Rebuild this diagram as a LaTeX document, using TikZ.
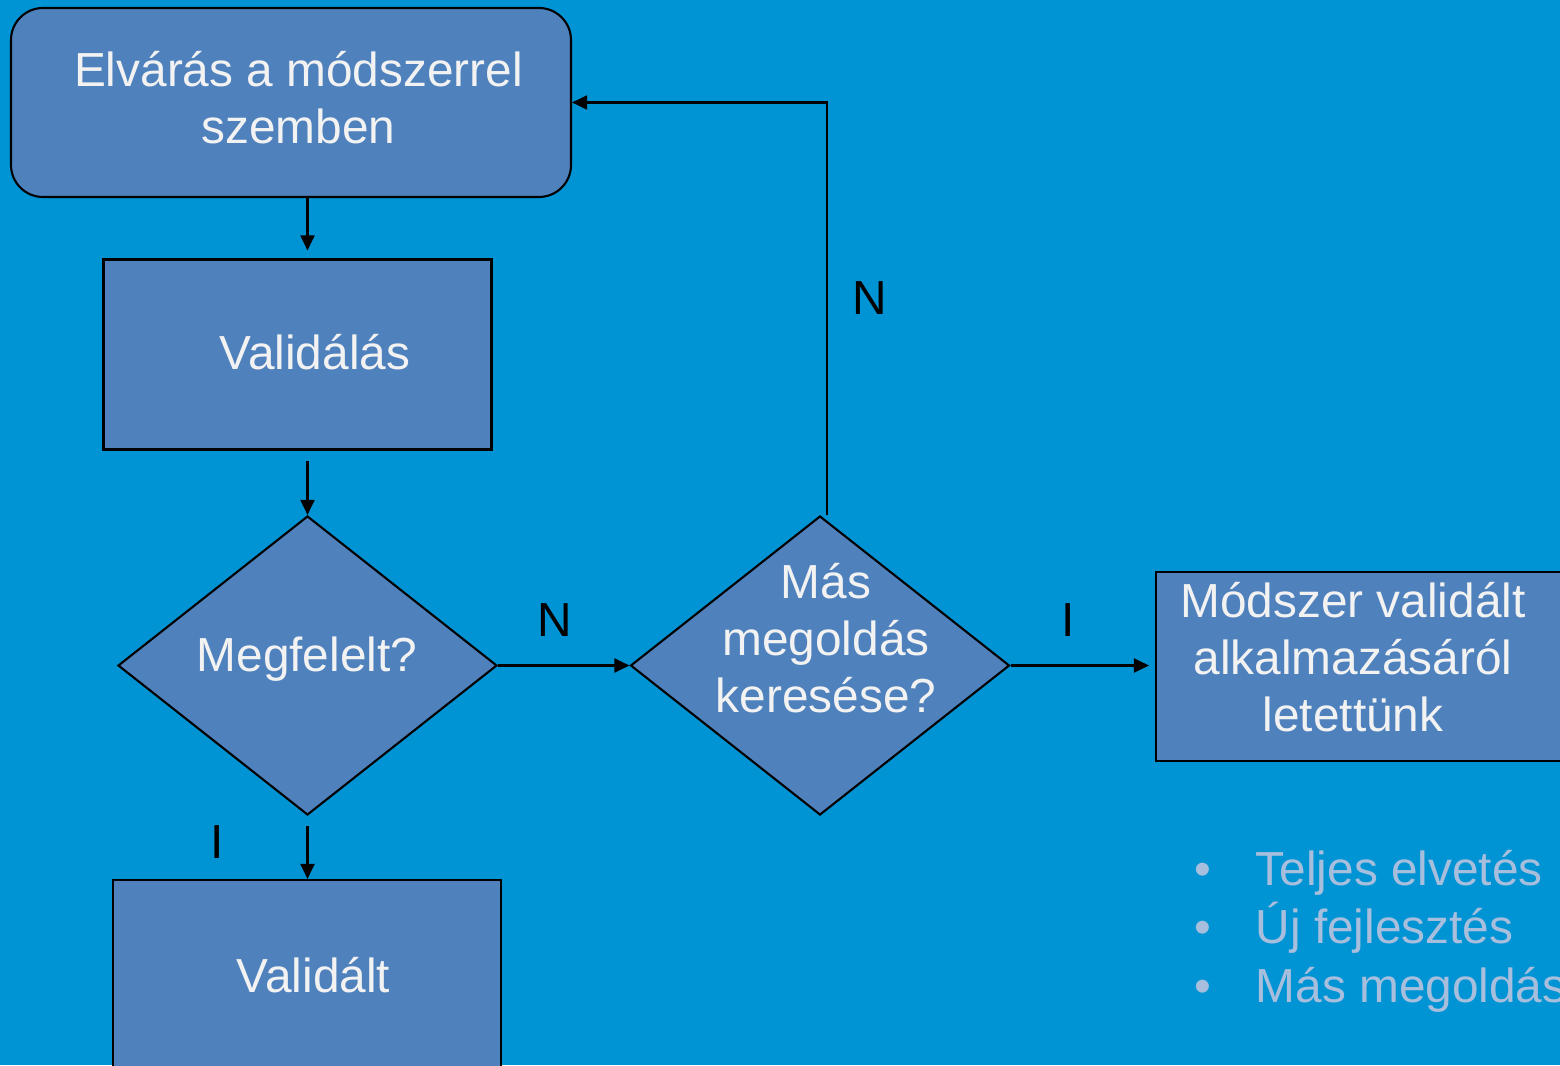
\documentclass[tikz,border=0pt]{standalone}
\usepackage{fontspec}
\setmainfont{Liberation Sans}
\usepackage{tikz}
\usetikzlibrary{arrows.meta}
\usetikzlibrary{shapes.geometric}

\definecolor{hatter}{RGB}{0,148,212}
\definecolor{doboz}{RGB}{79,129,189}
\definecolor{betu}{RGB}{242,242,242}
\definecolor{halvany}{RGB}{168,190,221}

\begin{document}
\begin{tikzpicture}[
    box/.style={draw=black,line width=0.6pt,fill=doboz,inner sep=0pt},
    dnt/.style={box,diamond,minimum width=3.79cm,minimum height=2.99cm},
    txt/.style={text=betu,align=center,font=\fontsize{13.6}{16.2}\selectfont},
    lbl/.style={text=black,font=\fontsize{13.6}{16.2}\selectfont}]
    \useasboundingbox (0,0) rectangle (15.6,10.65);
    \clip (0,0) rectangle (15.6,10.65);
    \fill[hatter] (0,0) rectangle (15.6,10.65);
    % dobozok
    \node[box,rounded corners=0.32cm,minimum width=5.6cm,minimum height=1.89cm] (elvaras) at (2.91,9.625) {};
    \node[txt] (elvarastxt) at (2.985,9.67) {Elvárás a módszerrel\\szemben};
    \node[box,minimum width=3.88cm,minimum height=1.9cm] (validalas) at (2.975,7.105) {};
    \node[txt] (validalastxt) at (3.15,7.125) {Validálás};
    \node[dnt] (megf) at (3.075,3.995) {};
    \node[txt] (megftxt) at (3.07,4.06) {Megfelelt?};
    \node[dnt] (masm) at (8.20,3.995) {};
    \node[txt] (masmtxt) at (8.26,4.27) {Más\\megoldás\\keresése?};
    \node[box,minimum width=5cm,minimum height=1.89cm] (modszer) at (14.06,3.985) {};
    \node[txt] (modszertxt) at (13.53,4.075) {Módszer validált\\alkalmazásáról\\letettünk};
    \node[box,minimum width=3.88cm,minimum height=1.9cm] (validalt) at (3.07,0.90) {};
    \node[txt] (validalttxt) at (3.135,0.90) {Validált};
    % feliratok
    \node[lbl] (n1) at (5.55,4.445) {N};
    \node[lbl] (n2) at (8.70,7.67) {N};
    \node[lbl] (i1) at (10.68,4.45) {I};
    \node[lbl] (i2) at (2.17,2.225) {I};
    % lista
    \foreach \t [count=\i] in {Teljes elvetés,Új fejlesztés,Más megoldás} {
      \node[lbl,text=halvany,anchor=base] (pt\i) at (12.03,{1.80-0.585*(\i-1)}) {•};
      \node[lbl,text=halvany,anchor=base west,inner sep=0pt] (lt\i) at (12.55,{1.80-0.585*(\i-1)}) {\t};
    }
    \begin{scope}[every edge/.style={draw=black,line width=0.6pt,-{Triangle[length=4.3pt,width=4pt]}}]
      \path (megf.north |- elvaras.south) edge[shorten >=0.08cm] (megf.north |- validalas.north);
      \path (megf.north |- validalas.south) edge[shorten <=0.1cm] (megf.north);
      \path (megf.south) edge[shorten <=0.1cm] (megf.south |- validalt.north);
      \path (megf.east) edge (masm.west);
      \path ([xshift=0.07cm]masm.north) edge[to path={|- (\tikztotarget)}] (elvaras.east);
      \path (masm.east) edge[shorten >=0.06cm] (masm.east -| modszer.west);
    \end{scope}
\end{tikzpicture}
\end{document}
